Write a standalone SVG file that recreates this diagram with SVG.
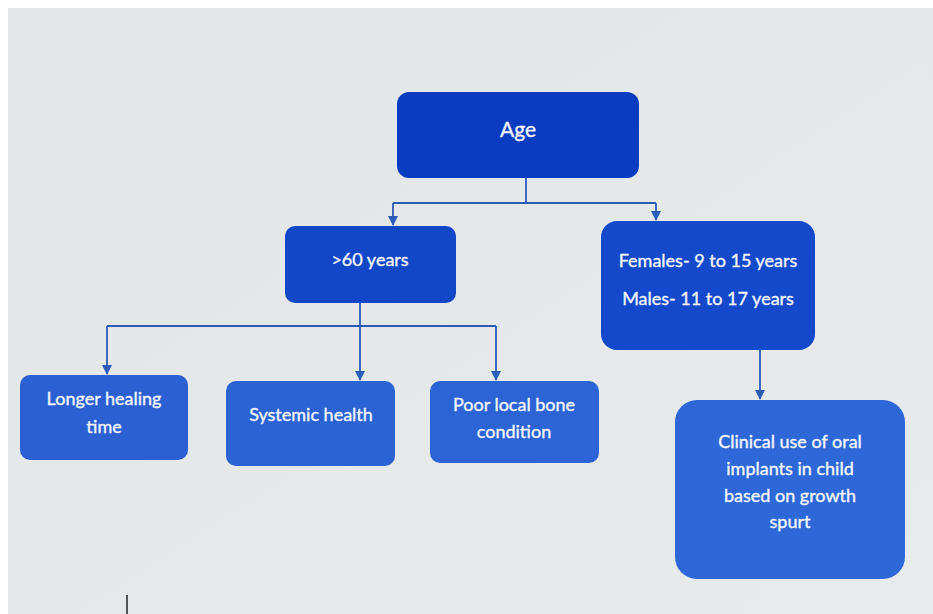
<svg xmlns="http://www.w3.org/2000/svg" width="933" height="614" viewBox="0 0 933 614">
<defs>
<style>
.t{font-family:Lato,"Open Sans","Liberation Sans",sans-serif;fill:#f4f6fb;text-anchor:middle;font-size:18px;stroke:#f4f6fb;stroke-width:0.35}
.c{stroke:#2d5bb8;stroke-width:1.8;fill:none}
</style>
<marker id="ar" viewBox="0 0 10 10" refX="9" refY="5" markerWidth="10" markerHeight="11" orient="auto" markerUnits="userSpaceOnUse">
<path d="M0,0 L10,5 L0,10 z" fill="#2d5bb8"/>
</marker>
<linearGradient id="bg" x1="0" y1="0" x2="1" y2="1">
<stop offset="0" stop-color="#e2e6e7"/>
<stop offset="1" stop-color="#e8ebeb"/>
</linearGradient>
</defs>
<rect x="0" y="0" width="933" height="614" fill="#ffffff"/>
<rect x="8" y="8" width="925" height="606" fill="url(#bg)"/>
<line x1="127" y1="595" x2="127" y2="614" stroke="#222" stroke-width="1.5"/>
<g id="connectors">
<path class="c" d="M526,178 V203 M393,203 H656"/>
<path class="c" d="M393,203 V225" marker-end="url(#ar)"/>
<path class="c" d="M656,203 V220" marker-end="url(#ar)"/>
<path class="c" d="M360,303 V380" marker-end="url(#ar)"/>
<path class="c" d="M107,326 H496"/>
<path class="c" d="M107,326 V374" marker-end="url(#ar)"/>
<path class="c" d="M496,326 V380" marker-end="url(#ar)"/>
<path class="c" d="M760,350 V399" marker-end="url(#ar)"/>
</g>
<g id="age">
<rect x="397" y="92" width="242" height="86" rx="12" fill="#0a3cc2"/>
<text class="t" x="518" y="137" style="font-size:21px">Age</text>
</g>
<g id="over60">
<rect x="285" y="226" width="171" height="77" rx="10" fill="#1247c8"/>
<text class="t" x="370" y="266">&gt;60 years</text>
</g>
<g id="child">
<rect x="601" y="221" width="214" height="129" rx="16" fill="#1549cc"/>
<text class="t" x="708" y="267">Females- 9 to 15 years</text>
<text class="t" x="708" y="305">Males- 11 to 17 years</text>
</g>
<g id="healing">
<rect x="20" y="375" width="168" height="85" rx="10" fill="#2a60d2"/>
<text class="t" x="104" y="405">Longer healing</text>
<text class="t" x="104" y="433">time</text>
</g>
<g id="systemic">
<rect x="226" y="381" width="169" height="85" rx="10" fill="#2b62d4"/>
<text class="t" x="311" y="421">Systemic health</text>
</g>
<g id="bone">
<rect x="430" y="381" width="169" height="82" rx="10" fill="#2c63d5"/>
<text class="t" x="514" y="411">Poor local bone</text>
<text class="t" x="514" y="438">condition</text>
</g>
<g id="clinical">
<rect x="675" y="400" width="230" height="179" rx="22" fill="#2e68d8"/>
<text class="t" x="790" y="448">Clinical use of oral</text>
<text class="t" x="790" y="475">implants in child</text>
<text class="t" x="790" y="502">based on growth</text>
<text class="t" x="790" y="528">spurt</text>
</g>
</svg>
